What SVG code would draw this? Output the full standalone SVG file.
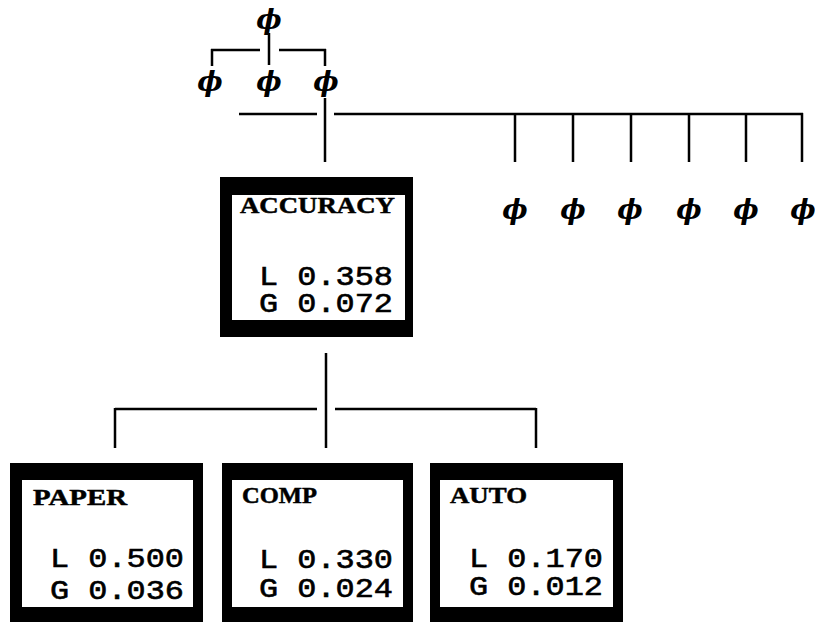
<svg xmlns="http://www.w3.org/2000/svg" width="815" height="622" viewBox="0 0 815 622">
<style>
.bg{fill:#fff}
.outer{fill:#000}
.inner{fill:#fff}
.ttl{font-family:"Liberation Serif","Times New Roman",serif;font-weight:bold;font-size:23px;fill:#000;stroke:#000;stroke-width:0.5}
.val{font-family:"Liberation Mono","Courier New",monospace;font-size:28px;fill:#000;stroke:#000;stroke-width:0.6}
.phi{font-family:"DejaVu Serif",serif;font-weight:bold;font-style:italic;font-size:27px;fill:#000;text-anchor:middle}
.ln{stroke:#000;stroke-width:2.5;fill:none}
</style>
<rect class="bg" x="0" y="0" width="815" height="622"/>
<g id="connectors">
<path class="ln" d="M269 33V65 M211 50H260 M279 50H326 M212 49V66 M325 49V66"/>
<path class="ln" d="M239 114H317 M334 114H803 M325 98V162 M515 113V162 M573 113V162 M631 113V162 M689 113V162 M746 113V162 M802 113V162"/>
<path class="ln" d="M326 353V448 M115 409H317 M335 409H536 M115 408V448 M536 408V448"/>
</g>
<g id="phi-nodes">
<text class="phi" x="269" y="29">ϕ</text>
<text class="phi" x="210" y="91">ϕ</text>
<text class="phi" x="269" y="91">ϕ</text>
<text class="phi" x="326" y="91">ϕ</text>
<text class="phi" x="515" y="219">ϕ</text>
<text class="phi" x="573" y="219">ϕ</text>
<text class="phi" x="630" y="219">ϕ</text>
<text class="phi" x="689" y="219">ϕ</text>
<text class="phi" x="746" y="219">ϕ</text>
<text class="phi" x="803" y="219">ϕ</text>
</g>
<g id="accuracy">
<rect class="outer" x="220" y="177" width="193" height="160"/>
<rect class="inner" x="232" y="195" width="173" height="125"/>
<text class="ttl" x="240" y="213" textLength="155" lengthAdjust="spacingAndGlyphs">ACCURACY</text>
<text class="val"><tspan x="259" y="285" textLength="134" lengthAdjust="spacingAndGlyphs">L 0.358</tspan><tspan x="259" y="312" textLength="134" lengthAdjust="spacingAndGlyphs">G 0.072</tspan></text>
</g>
<g id="paper">
<rect class="outer" x="10" y="463" width="193" height="165"/>
<rect class="inner" x="22" y="480" width="171" height="127"/>
<text class="ttl" x="33" y="505" textLength="94" lengthAdjust="spacingAndGlyphs">PAPER</text>
<text class="val"><tspan x="50" y="567" textLength="134" lengthAdjust="spacingAndGlyphs">L 0.500</tspan><tspan x="50" y="599" textLength="134" lengthAdjust="spacingAndGlyphs">G 0.036</tspan></text>
</g>
<g id="comp">
<rect class="outer" x="222" y="463" width="191" height="165"/>
<rect class="inner" x="232" y="480" width="171" height="127"/>
<text class="ttl" x="242" y="503" textLength="75" lengthAdjust="spacingAndGlyphs">COMP</text>
<text class="val"><tspan x="259" y="568" textLength="134" lengthAdjust="spacingAndGlyphs">L 0.330</tspan><tspan x="259" y="597" textLength="134" lengthAdjust="spacingAndGlyphs">G 0.024</tspan></text>
</g>
<g id="auto">
<rect class="outer" x="430" y="463" width="193" height="165"/>
<rect class="inner" x="440" y="480" width="173" height="127"/>
<text class="ttl" x="450" y="503" textLength="77" lengthAdjust="spacingAndGlyphs">AUTO</text>
<text class="val"><tspan x="469" y="567" textLength="134" lengthAdjust="spacingAndGlyphs">L 0.170</tspan><tspan x="469" y="595" textLength="134" lengthAdjust="spacingAndGlyphs">G 0.012</tspan></text>
</g>
</svg>
